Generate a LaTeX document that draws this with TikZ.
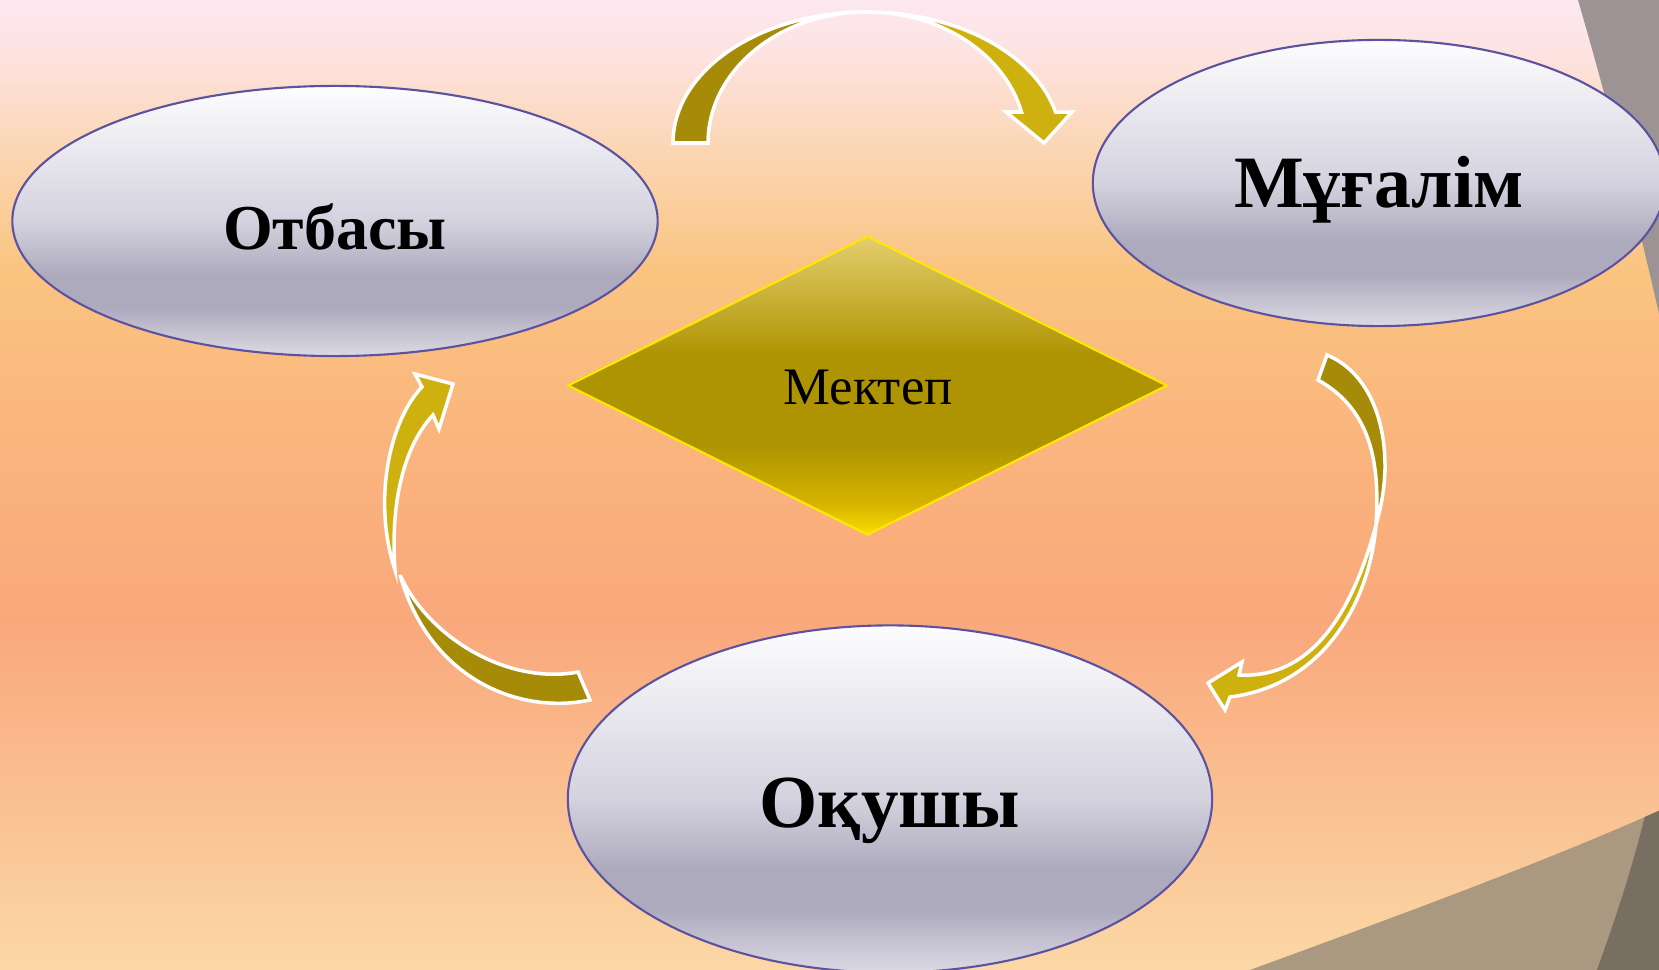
\documentclass[tikz,border=0pt]{standalone}
\usepackage{fontspec}
\setmainfont{Liberation Serif}
\usetikzlibrary{shapes.geometric}
\definecolor{bg0}{RGB}{251,216,166}
\definecolor{bg1}{RGB}{250,192,145}
\definecolor{bg2}{RGB}{249,168,124}
\definecolor{bg3}{RGB}{250,180,125}
\definecolor{bg4}{RGB}{250,196,128}
\definecolor{bg5}{RGB}{251,214,180}
\definecolor{bg6}{RGB}{253,226,222}
\definecolor{bg7}{RGB}{253,232,242}
\definecolor{eB}{RGB}{220,218,228}
\definecolor{eD}{RGB}{174,170,190}
\definecolor{eM}{RGB}{212,210,222}
\definecolor{eT}{RGB}{253,253,254}
\definecolor{dB}{RGB}{250,222,0}
\definecolor{dB2}{RGB}{215,180,0}
\definecolor{dM}{RGB}{174,148,2}
\definecolor{dT}{RGB}{228,206,110}
\definecolor{arrdark}{RGB}{166,139,8}
\definecolor{arrlight}{RGB}{206,176,14}
\definecolor{ellline}{RGB}{92,82,160}
\definecolor{dialine}{RGB}{255,232,0}
\definecolor{grayTR}{RGB}{158,147,148}
\definecolor{taupe}{RGB}{170,152,128}
\definecolor{darkc}{RGB}{120,110,98}
\pgfdeclareverticalshading{bgshade}{100bp}{color(0bp)=(bg0); color(25bp)=(bg0); color(33.75bp)=(bg1); color(43bp)=(bg2); color(51.8bp)=(bg3); color(61bp)=(bg4); color(67.25bp)=(bg5); color(72bp)=(bg6); color(75bp)=(bg7); color(100bp)=(bg7)}
\pgfdeclareverticalshading{eshade}{100bp}{color(0bp)=(eB); color(25bp)=(eB); color(34bp)=(eD); color(40bp)=(eD); color(50bp)=(eM); color(75bp)=(eT); color(100bp)=(eT)}
\pgfdeclareverticalshading{dshade}{100bp}{color(0bp)=(dB); color(25bp)=(dB); color(30bp)=(dB2); color(40bp)=(dM); color(55bp)=(dM); color(75bp)=(dT); color(100bp)=(dT)}
\begin{document}
\begin{tikzpicture}[x=0.01cm,y=0.01cm,
  ell/.style={ellipse, draw=ellline, line width=0.6pt, shade, shading=eshade, inner sep=0pt},
  dia/.style={diamond, draw=dialine, line width=0.6pt, shade, shading=dshade, inner sep=0pt},
  lbl/.style={inner sep=0pt, anchor=base, text=black},
  darkarr/.style={fill=arrdark, draw=white, line width=1pt},
  lightarr/.style={fill=arrlight, draw=white, line width=1pt}]
\useasboundingbox (0,-970) rectangle (1659,0);
\clip (0,-970) rectangle (1659,0);
\shade[shading=bgshade] (0,-970) rectangle (1659,0);
% decorations on the right
\fill[grayTR] (1578,0) .. controls (1610,-110) and (1638,-220) .. (1665,-340) -- (1665,0) -- cycle;
\fill[taupe] (1250,-970) .. controls (1400,-915) and (1550,-860) .. (1665,-808) -- (1665,-970) -- cycle;
\begin{scope}
\clip (1250,-970) .. controls (1400,-915) and (1550,-860) .. (1665,-808) -- (1665,-970) -- cycle;
\fill[darkc] (1597,-970) .. controls (1622,-900) and (1642,-840) .. (1662,-740) -- (1665,-970) -- cycle;
\end{scope}
% nodes
\node[ell, minimum width=6.45cm, minimum height=2.70cm] (otb) at (335,-221) {};
\node[ell, minimum width=5.72cm, minimum height=2.86cm] (mug) at (1379,-183) {};
\node[ell, minimum width=6.44cm, minimum height=3.47cm] (oku) at (890,-799) {};
\node[dia, minimum width=5.99cm, minimum height=2.99cm] (mek) at (867.5,-385.5) {};
\node[lbl, font=\bfseries\fontsize{18.2}{22}\selectfont] (totb) at (335,-250) {Отбасы};
\node[lbl, font=\bfseries\fontsize{21}{25}\selectfont] (tmug) at (1379,-208) {Мұғалім};
\node[lbl, font=\bfseries\fontsize{21.3}{25}\selectfont] (toku) at (890,-828) {Оқушы};
\node[lbl, font=\fontsize{15}{18}\selectfont] (tmek) at (868,-405) {Мектеп};
% top arrow (Отбасы -> Мұғалім)
\path[darkarr] (673,-143) arc[start angle=180, end angle=90, x radius=1.94cm, y radius=1.31cm] arc[start angle=90, end angle=180, x radius=1.59cm, y radius=1.31cm] -- cycle;
\path[lightarr] (867,-12) arc[start angle=90, end angle=13.69, x radius=1.94cm, y radius=1.31cm] -- (1072,-112) -- (1044,-143) -- (1006,-112) -- (1021.5,-112) arc[start angle=13.69, end angle=90, x radius=1.59cm, y radius=1.31cm] -- cycle;
% right arrow (Мұғалім -> Оқушы)
\path[darkarr] (1327,-355) .. controls (1368,-372) and (1386,-420) .. (1385,-470) .. controls (1384,-495) and (1380,-510) .. (1376,-525) .. controls (1380,-465) and (1372,-410) .. (1318,-380) -- cycle;
\path[lightarr] (1376,-525) .. controls (1370,-600) and (1325,-685) .. (1230,-697) -- (1225,-710) -- (1208,-683) -- (1242,-662) -- (1239,-675) .. controls (1295,-678) and (1345,-640) .. (1376,-525) -- cycle;
% left arrow (Оқушы -> Отбасы)
\path[darkarr] (590,-700) .. controls (520,-715) and (430,-680) .. (400,-575) .. controls (430,-640) and (510,-685) .. (578,-672) -- cycle;
\path[lightarr] (422,-387) .. controls (390,-420) and (372,-500) .. (395,-570) .. controls (390,-500) and (405,-445) .. (433,-415) -- (439,-429) -- (453,-384) -- (415,-374) -- cycle;
\end{tikzpicture}
\end{document}
